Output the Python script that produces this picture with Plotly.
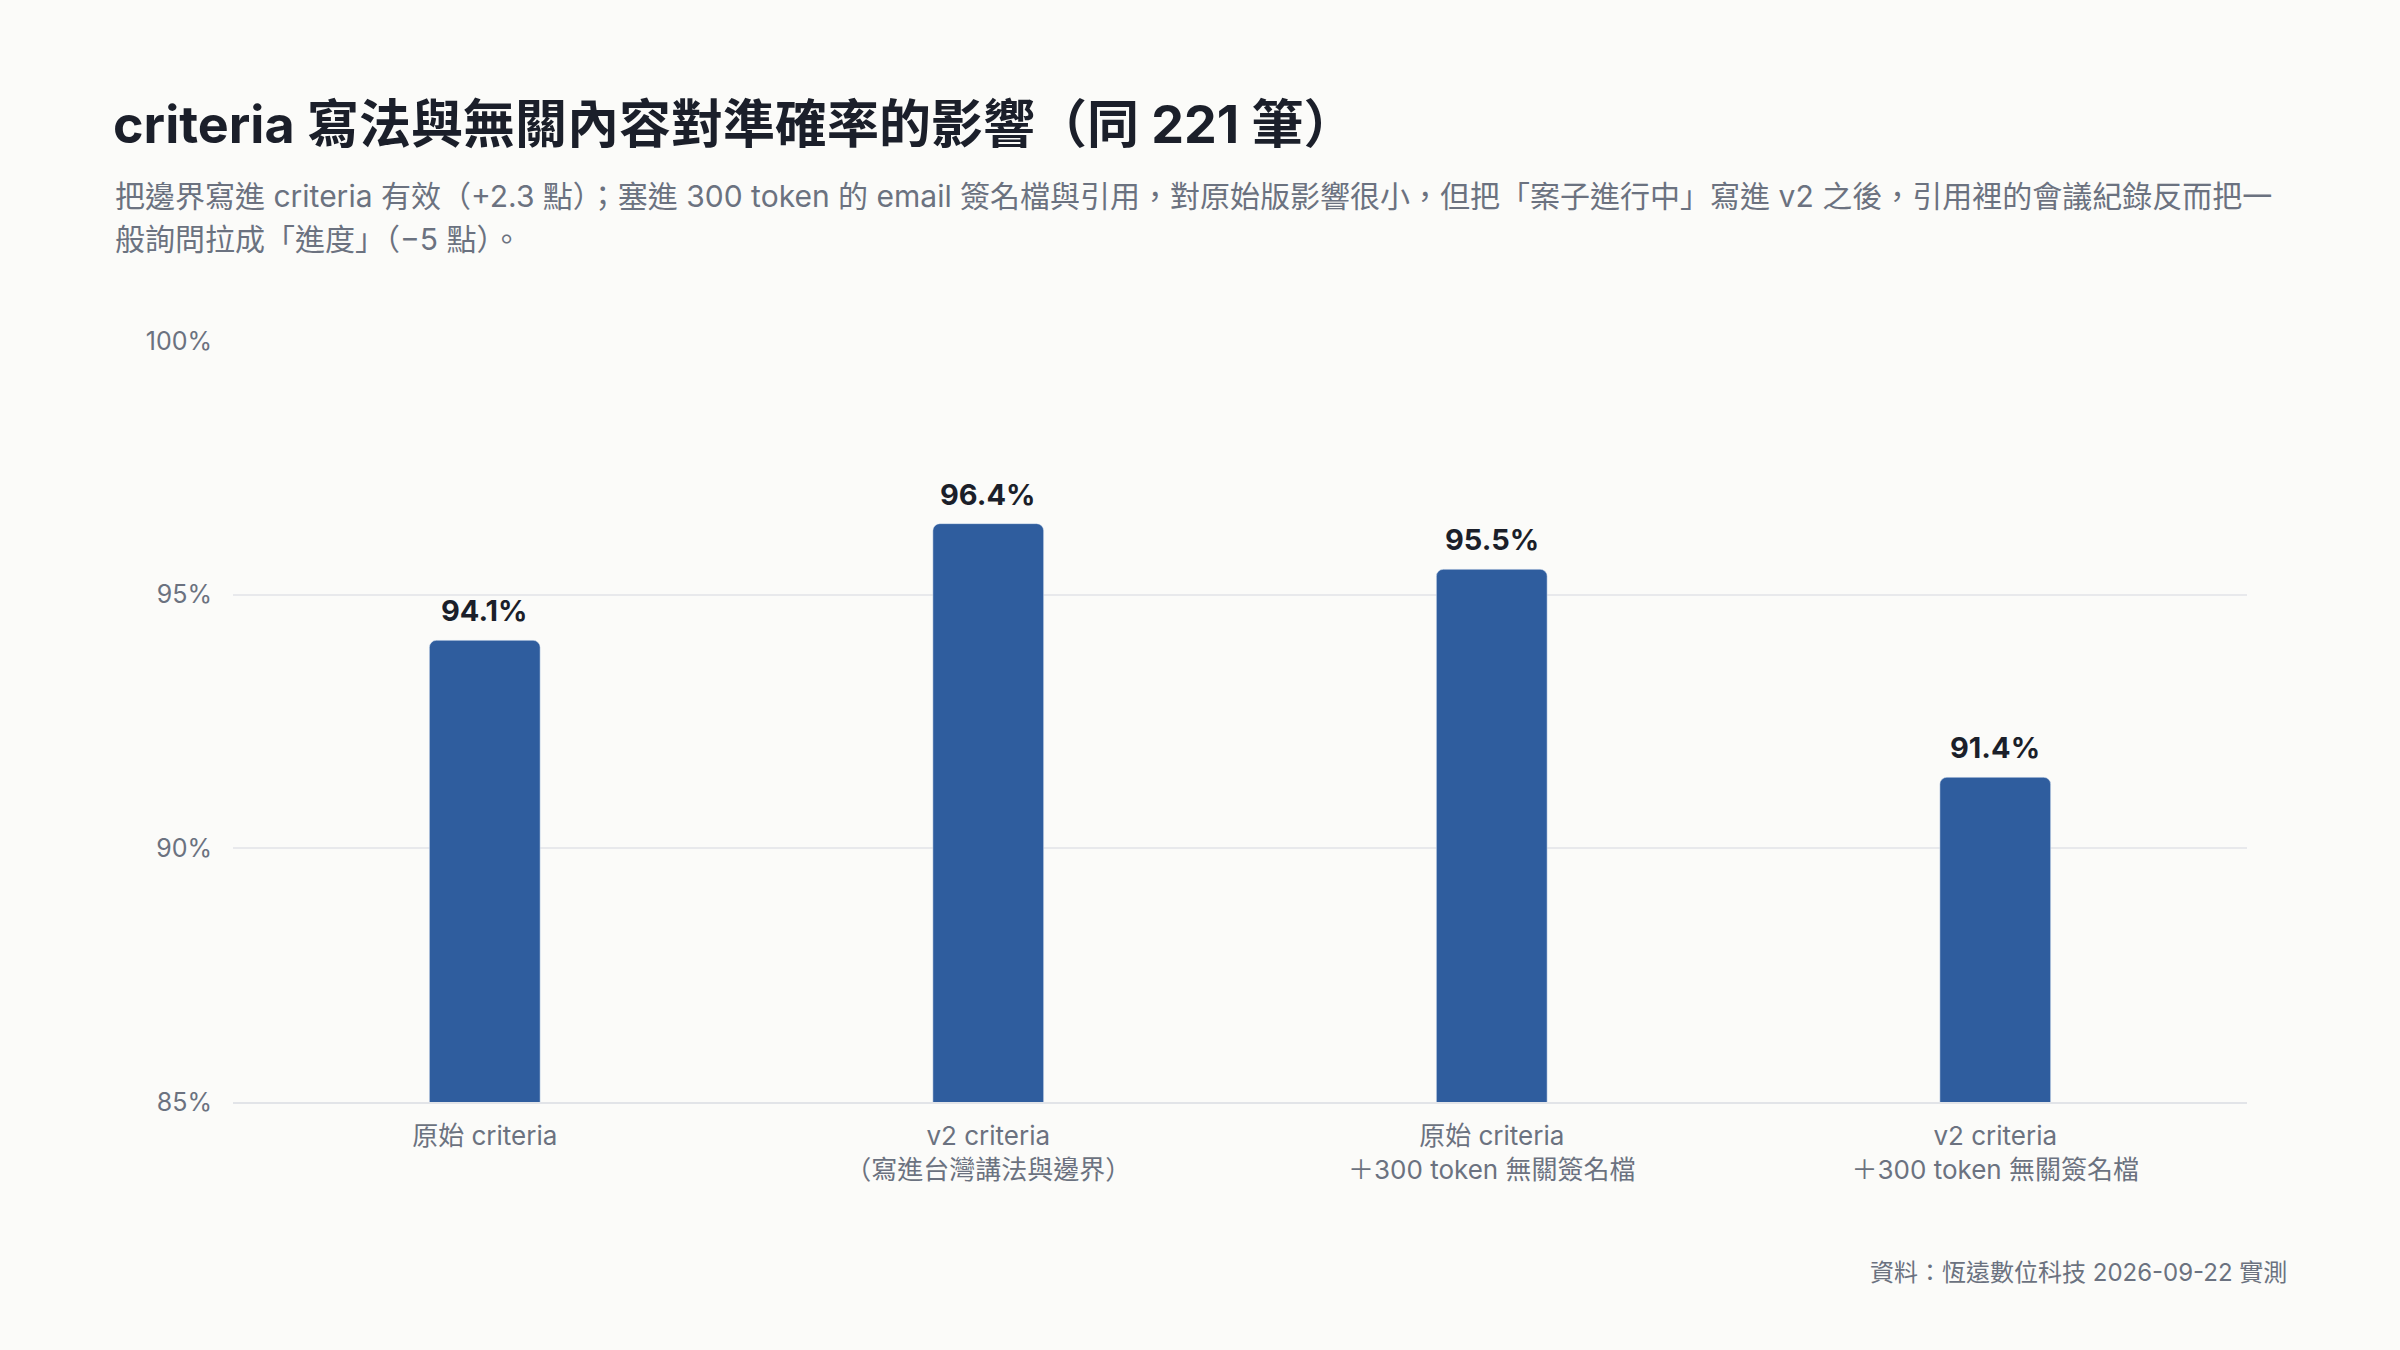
import plotly.graph_objects as go

# values
categories = [
    "原始 criteria",
    "v2 criteria<br>（寫進台灣講法與邊界）",
    "原始 criteria<br>＋300 token 無關簽名檔",
    "v2 criteria<br>＋300 token 無關簽名檔",
]
accuracy = [94.1, 96.4, 95.5, 91.4]
y_ticks = [85, 90, 95, 100]
y_tick_labels = ["85%", "90%", "95%", "100%"]

TITLE = "criteria 寫法與無關內容對準確率的影響（同 221 筆）"
SUB_1 = ("把邊界寫進 criteria 有效（+2.3 點）；塞進 300 token 的 email 簽名檔與引用，"
         "對原始版影響很小，但把「案子進行中」寫進 v2 之後，引用裡的會議紀錄反而把一")
SUB_2 = "般詢問拉成「進度」（−5 點）。"
SOURCE = "資料：恆遠數位科技 2026-09-22 實測"

FONT = "Inter, 'Noto Sans CJK TC', 'Noto Sans', sans-serif"
BAR = "#2f5d9e"
INK = "#1b1f2a"
GREY = "#6b7280"
BG = "#fbfbf9"

fig = go.Figure(
    go.Bar(
        x=categories,
        y=accuracy,
        marker=dict(color=BAR, cornerradius=7),
        hoverinfo="skip",
    )
)

# value labels above each bar
for cat, val in zip(categories, accuracy):
    fig.add_annotation(
        x=cat, y=val, text=f"<b>{val:.1f}%</b>",
        showarrow=False, yanchor="bottom", yshift=10,
        font=dict(size=29, color=INK, family=FONT),
    )

fig.add_annotation(
    xref="paper", yref="paper", x=-0.0606, y=1.284,
    xanchor="left", yanchor="middle", showarrow=False,
    text=f"<b>{TITLE}</b>", font=dict(size=52, color=INK, family=FONT),
)
fig.add_annotation(
    xref="paper", yref="paper", x=-0.0596, y=1.1905,
    xanchor="left", yanchor="middle", showarrow=False,
    text=SUB_1, font=dict(size=30, color=GREY, family=FONT),
)
fig.add_annotation(
    xref="paper", yref="paper", x=-0.0596, y=1.134,
    xanchor="left", yanchor="middle", showarrow=False,
    text=SUB_2, font=dict(size=30, color=GREY, family=FONT),
)
fig.add_annotation(
    xref="paper", yref="paper", x=1.021, y=-0.2247,
    xanchor="right", yanchor="middle", showarrow=False,
    text=SOURCE, font=dict(size=24, color=GREY, family=FONT),
)

fig.update_layout(
    width=2400,
    height=1350,
    margin=dict(l=233, r=153, t=341, b=248),
    paper_bgcolor=BG,
    plot_bgcolor=BG,
    bargap=0.78,
    showlegend=False,
    font=dict(family=FONT, color=GREY, size=26),
    xaxis=dict(
        showgrid=False,
        showline=True,
        linecolor="#e2e4e8",
        linewidth=2,
        ticks="outside",
        ticklen=10,
        tickcolor="rgba(0,0,0,0)",
        tickfont=dict(size=26, color=GREY),
    ),
    yaxis=dict(
        range=[85, 100],
        tickvals=y_ticks,
        ticktext=y_tick_labels,
        showgrid=True,
        gridcolor="#e8e9ec",
        gridwidth=2,
        zeroline=False,
        ticklabelstandoff=20,
        tickfont=dict(size=25, color=GREY),
    ),
)

fig.write_html(
    "out.html",
    config={"displayModeBar": False},
    post_script="document.body.style.margin='0';document.body.style.background='" + BG + "';",
)
